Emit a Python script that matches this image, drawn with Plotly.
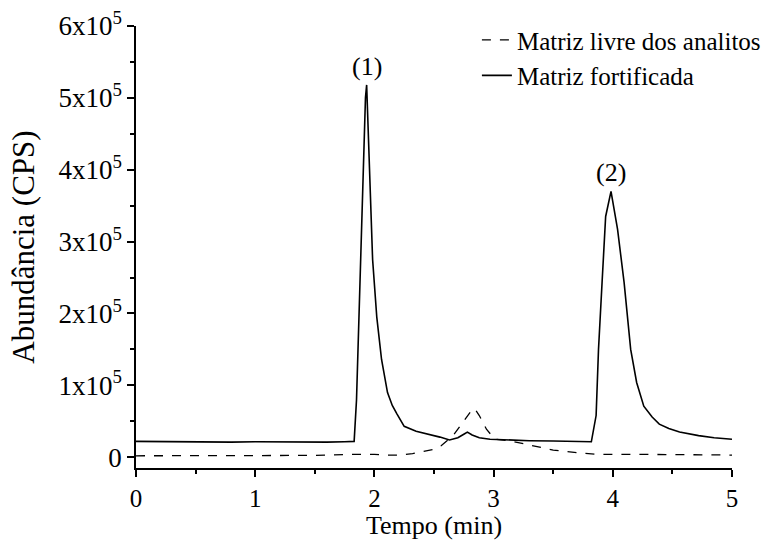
import plotly.graph_objects as go

# Retention time (min) and abundance (CPS)
t_fort = [0.00, 0.20, 0.40, 0.60, 0.80, 1.00, 1.20, 1.40, 1.60, 1.75, 1.83, 1.85, 1.875, 1.90, 1.925, 1.935,
          1.96, 1.985, 2.02, 2.06, 2.11, 2.15, 2.19, 2.25, 2.35, 2.46, 2.55, 2.63, 2.70, 2.75, 2.78,
          2.82, 2.88, 2.97, 3.10, 3.30, 3.50, 3.70, 3.82, 3.86, 3.88, 3.91, 3.94, 3.985,
          4.04, 4.095, 4.15, 4.20, 4.26, 4.33, 4.39, 4.47, 4.56, 4.72, 4.85, 5.00]
y_fort = [22000, 21500, 21500, 21000, 21000, 21500, 21000, 21000, 21000, 21500, 22000, 80000, 220000, 360000, 500000, 518000,
          396000, 275000, 195000, 136000, 90000, 72000, 60000, 43000, 36000, 32000, 28000, 24000, 27000, 32000, 35000,
          31000, 27000, 25000, 24000, 23000, 22500, 22000, 21500, 58000, 150000, 243000, 335000, 370000,
          317000, 243000, 150000, 104000, 71000, 56000, 46000, 40000, 35000, 30000, 27000, 25000]

t_livre = [0.00, 0.50, 1.00, 1.50, 1.80, 1.90, 2.00, 2.10, 2.21, 2.32, 2.42, 2.50, 2.56, 2.66, 2.74,
           2.81, 2.84, 2.88, 2.94, 3.01, 3.13, 3.30, 3.50, 3.72, 3.86, 4.20, 4.60, 5.00]
y_livre = [2000, 2000, 2000, 2500, 4000, 4500, 4000, 3000, 3000, 5000, 8000, 11000, 16000, 30000, 48000,
           64000, 68000, 58000, 39000, 25000, 23000, 17000, 10000, 6000, 4000, 4000, 3000, 3000]

y_ticks = [0, 100000, 200000, 300000, 400000, 500000, 600000]
y_ticktext = ["0", "1x10<sup>5</sup>", "2x10<sup>5</sup>", "3x10<sup>5</sup>", "4x10<sup>5</sup>",
              "5x10<sup>5</sup>", "6x10<sup>5</sup>"]
y_minor = [50000, 150000, 250000, 350000, 450000, 550000]
x_ticks = [0, 1, 2, 3, 4, 5]

peak_labels = ["(1)", "(2)"]
peak_t = [1.935, 3.985]
peak_y = [518000, 370000]

font = "Liberation Serif, Times New Roman, serif"

fig = go.Figure()
fig.add_trace(go.Scatter(x=t_livre, y=y_livre, mode="lines", name="Matriz livre dos analitos",
                         line=dict(color="black", width=1.3, dash="dash")))
fig.add_trace(go.Scatter(x=t_fort, y=y_fort, mode="lines", name="Matriz fortificada",
                         line=dict(color="black", width=1.6)))

for lbl, px, py in zip(peak_labels, peak_t, peak_y):
    fig.add_annotation(x=px, y=py, text=lbl, showarrow=False, yanchor="bottom", yshift=2,
                       font=dict(family=font, size=26, color="black"))

fig.update_layout(
    width=781, height=540,
    margin=dict(l=136, r=49, t=26, b=72, autoexpand=False),
    paper_bgcolor="white", plot_bgcolor="white",
    font=dict(family=font, size=26, color="black"),
    showlegend=True,
    legend=dict(x=0.572, xanchor="left", y=1.02, yanchor="top", bgcolor="rgba(0,0,0,0)",
                font=dict(family=font, size=25), tracegroupgap=0),
)
fig.update_xaxes(range=[0, 5], tickvals=x_ticks, showline=True, linecolor="black", linewidth=1.5,
                 ticks="outside", ticklen=7, tickwidth=1.5, tickcolor="black", showgrid=False, zeroline=False,
                 automargin=False,
                 minor=dict(dtick=0.5, ticks="outside", ticklen=4, tickwidth=1.5, tickcolor="black", showgrid=False),
                 title=dict(text="Tempo (min)", font=dict(size=26)), tickfont=dict(size=25))
fig.update_yaxes(range=[-15000, 600000], tickvals=y_ticks, ticktext=y_ticktext, showline=True,
                 linecolor="black", linewidth=1.5, ticks="outside", ticklen=7, tickwidth=1.5, tickcolor="black",
                 showgrid=False, zeroline=False, automargin=False,
                 minor=dict(tickvals=y_minor, ticks="outside", ticklen=4,
                            tickwidth=1.5, tickcolor="black", showgrid=False),
                 title=dict(text="Abundância (CPS)", font=dict(size=31)), tickfont=dict(size=27))

fig.write_html("out.html", config={"displayModeBar": False},
               post_script="document.body.style.margin='0';")
